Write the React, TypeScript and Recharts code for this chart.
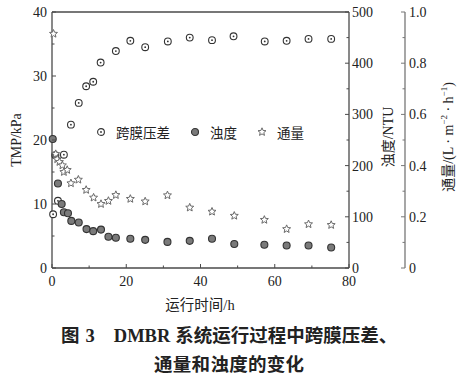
import { ScatterChart, Scatter, XAxis, YAxis, ReferenceLine } from 'recharts'

// 运行时间/h 与各指标
const tmpTime = [0.3, 1.6, 3.2, 5.1, 7.2, 9.2, 11.1, 13.1, 17.2, 21.1, 25.1, 31.2, 37.1, 43.1, 48.9, 57.3, 63.2, 69.1, 75.2]
const tmpValue = [8.4, 10.5, 17.7, 22.4, 25.8, 28.4, 29.1, 32.1, 33.9, 35.5, 34.5, 35.4, 36.0, 35.6, 36.2, 35.4, 35.5, 35.8, 35.8]

const turbTime = [0.2, 0.9, 1.6, 2.6, 3.2, 4.3, 5.2, 7.2, 9.3, 11.1, 13.2, 15.2, 17.2, 21.1, 25.1, 31.1, 37.1, 43.1, 49.1, 57.2, 63.2, 69.1, 75.2]
const turbValue = [252, 220, 165, 125, 109, 107, 92, 89, 76, 72, 75, 61, 59, 57, 55, 51, 53, 57, 47, 45.5, 44, 44, 40]

const fluxTime = [0.4, 1.0, 1.4, 2.0, 2.8, 3.2, 4.1, 5.1, 7.1, 9.2, 11.2, 13.2, 15.2, 17.2, 21.1, 25.1, 31.1, 37.1, 43.1, 49.1, 57.2, 63.2, 69.1, 75.2]
const fluxValue = [0.915, 0.445, 0.425, 0.414, 0.401, 0.375, 0.383, 0.331, 0.345, 0.305, 0.275, 0.25, 0.262, 0.285, 0.27, 0.26, 0.284, 0.236, 0.22, 0.204, 0.188, 0.152, 0.171, 0.168]

const timeTicks = [0, 10, 20, 30, 40, 50, 60, 70, 80]
const tmpTicks = [0, 5, 10, 15, 20, 25, 30, 35, 40]
const turbTicks = [0, 50, 100, 150, 200, 250, 300, 350, 400, 450, 500]
const fluxTicks = [0, 0.1, 0.2, 0.3, 0.4, 0.5, 0.6, 0.7, 0.8, 0.9, 1.0]

const zip = (t: number[], v: number[]) => t.map((x, i) => ({ t: x, v: v[i] }))
const tmpData = zip(tmpTime, tmpValue)
const turbData = zip(turbTime, turbValue)
const fluxData = zip(fluxTime, fluxValue)

const AXIS = '#4a4a4a'
const SERIF = '"Liberation Serif", "Times New Roman", serif'
const CJK = '"Liberation Serif", "Noto Sans CJK SC", serif'
const HEI = '"Noto Sans CJK SC", sans-serif'

const TmpDot = ({ cx, cy }: any) => (
  <g>
    <circle cx={cx} cy={cy} r={3.4} fill="#fff" stroke="#333" strokeWidth={1.1} />
    <circle cx={cx} cy={cy} r={0.9} fill="#333" />
  </g>
)
const TurbDot = ({ cx, cy }: any) => (
  <circle cx={cx} cy={cy} r={3.5} fill="#7a7a7a" stroke="#333" strokeWidth={1.1} />
)
const starPath = (cx: number, cy: number, R: number, r: number) => {
  let d = ''
  for (let i = 0; i < 10; i++) {
    const a = -Math.PI / 2 + (i * Math.PI) / 5
    const rr = i % 2 === 0 ? R : r
    d += (i === 0 ? 'M' : 'L') + (cx + rr * Math.cos(a)).toFixed(2) + ',' + (cy + rr * Math.sin(a)).toFixed(2)
  }
  return d + 'Z'
}
const FluxStar = ({ cx, cy }: any) => (
  <path d={starPath(cx, cy, 4.2, 1.9)} fill="#fff" stroke="#6a6a6a" strokeWidth={1} />
)

const txt = { fontFamily: SERIF, fontSize: 14, fill: '#222' }

function BottomTick({ x, y, payload }: any) {
  const major = payload.value % 20 === 0
  return (
    <g>
      <line x1={x} x2={x} y1={y} y2={y - (major ? 4 : 2.5)} stroke={AXIS} />
      {major && <text x={x} y={y + 18} textAnchor="middle" {...txt}>{payload.value}</text>}
    </g>
  )
}
function LeftTick({ x, y, payload }: any) {
  const major = payload.value % 10 === 0
  return (
    <g>
      <line x1={x} x2={x + (major ? 4 : 2.5)} y1={y} y2={y} stroke={AXIS} />
      {major && <text x={x - 5} y={y} dy="0.35em" textAnchor="end" {...txt}>{payload.value}</text>}
    </g>
  )
}
function TurbTick({ x, y, payload }: any) {
  const major = payload.value % 100 === 0
  return (
    <g>
      <line x1={x} x2={x - (major ? 4 : 2.5)} y1={y} y2={y} stroke={AXIS} />
      {major && <text x={x + 3} y={y} dy="0.35em" textAnchor="start" {...txt}>{payload.value}</text>}
    </g>
  )
}
function FluxTick({ x, y, payload }: any) {
  const v = payload.value
  const major = Math.round(v * 10) % 2 === 0
  return (
    <g>
      <line x1={x} x2={x - (major ? 4 : 2.5)} y1={y} y2={y} stroke="#777" />
      {major && <text x={x + 4} y={y} dy="0.35em" textAnchor="start" {...txt}>{v === 0 ? '0' : v.toFixed(1)}</text>}
    </g>
  )
}

const legendItems = [
  { name: '跨膜压差', Mark: TmpDot },
  { name: '浊度', Mark: TurbDot },
  { name: '通量', Mark: FluxStar },
]

const rotated = (left: number, top: number, text: React.ReactNode) => (
  <div
    style={{
      position: 'absolute', left, top, transform: 'translate(-50%, -50%) rotate(-90deg)',
      whiteSpace: 'nowrap', fontFamily: CJK, fontSize: 14, color: '#222',
    }}
  >
    {text}
  </div>
)

const capLine = { position: 'absolute' as const, whiteSpace: 'nowrap' as const, fontFamily: HEI, fontWeight: 700, fontSize: 18.5, lineHeight: '28px', color: '#222', transform: 'translateY(-50%)' }
const boldSerif = { fontFamily: SERIF, fontWeight: 700 }

export default function App() {
  return (
    <div style={{ position: 'absolute', left: 0, top: 0, width: 467, height: 376, background: '#fff' }}>
      <ScatterChart width={467} height={300} margin={{ top: 12, right: 0, bottom: 0, left: 0 }}>
        <XAxis
          type="number" dataKey="t" domain={[0, 80]} ticks={timeTicks} height={32}
          axisLine={{ stroke: AXIS, strokeWidth: 1.3 }} tickLine={false} tickSize={0} tickMargin={0}
          tick={<BottomTick />} interval={0}
        />
        <YAxis
          yAxisId="left" type="number" dataKey="v" domain={[0, 40]} ticks={tmpTicks} width={52}
          axisLine={{ stroke: AXIS, strokeWidth: 1.3 }} tickLine={false} tickSize={0} tickMargin={0}
          tick={<LeftTick />} interval={0}
        />
        <YAxis
          yAxisId="r1" orientation="right" type="number" dataKey="v" domain={[0, 500]} ticks={turbTicks} width={56}
          axisLine={{ stroke: AXIS, strokeWidth: 1.3 }} tickLine={false} tickSize={0} tickMargin={0}
          tick={<TurbTick />} interval={0}
        />
        <YAxis
          yAxisId="r2" orientation="right" type="number" dataKey="v" domain={[0, 1]} ticks={fluxTicks} width={62}
          axisLine={{ stroke: '#777', strokeWidth: 1.3 }} tickLine={false} tickSize={0} tickMargin={0}
          tick={<FluxTick />} interval={0}
        />
        <ReferenceLine yAxisId="left" y={40} stroke={AXIS} strokeWidth={1.3} />
        <Scatter name="跨膜压差" yAxisId="left" data={tmpData} shape={<TmpDot />} isAnimationActive={false} />
        <Scatter name="浊度" yAxisId="r1" data={turbData} shape={<TurbDot />} isAnimationActive={false} />
        <Scatter name="通量" yAxisId="r2" data={fluxData} shape={<FluxStar />} isAnimationActive={false} />
      </ScatterChart>

      <div style={{ position: 'absolute', left: 95, top: 122, display: 'flex', alignItems: 'center', fontFamily: CJK, fontSize: 13.5, color: '#222' }}>
        {legendItems.map(({ name, Mark }) => (
          <span key={name} style={{ display: 'flex', alignItems: 'center', marginRight: 19 }}>
            <svg width={12} height={12} style={{ marginRight: 9 }}>
              <Mark cx={6} cy={6} />
            </svg>
            {name}
          </span>
        ))}
      </div>

      {rotated(17, 140, 'TMP/kPa')}
      {rotated(387, 137, '浊度/NTU')}
      {rotated(447, 137, <span>通量/(L · m<sup style={{ fontSize: 9 }}>−2</sup> · h<sup style={{ fontSize: 9 }}>−1</sup>)</span>)}

      <div style={{ position: 'absolute', left: 200, top: 303, transform: 'translate(-50%, -50%)', fontFamily: CJK, fontSize: 14.5, color: '#222', whiteSpace: 'nowrap' }}>
        运行时间/h
      </div>

      <div style={{ ...capLine, left: 61, top: 335 }}>
        图<span style={{ ...boldSerif, marginLeft: 6 }}>3</span>
        <span style={{ ...boldSerif, marginLeft: 19 }}>DMBR</span>
        <span style={{ marginLeft: 5 }}>系统运行过程中跨膜压差、</span>
      </div>
      <div style={{ ...capLine, left: 154, top: 363, letterSpacing: 0.3 }}>通量和浊度的变化</div>
    </div>
  )
}
